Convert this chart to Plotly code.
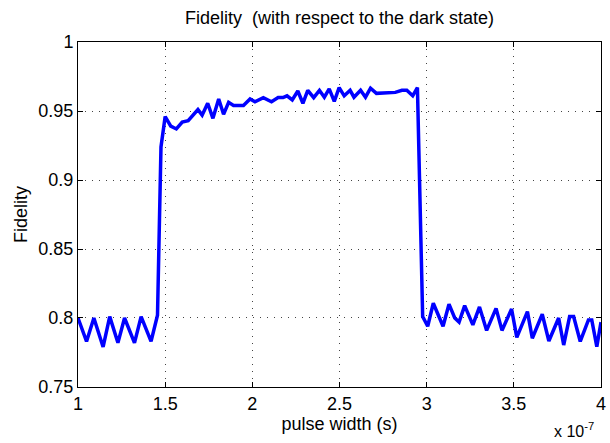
import plotly.graph_objects as go

# pulse width in units of 1e-7 s
pulse_width = [
    1.000, 1.049, 1.091, 1.144, 1.182, 1.229, 1.267, 1.324, 1.362, 1.419, 1.456,
    1.476, 1.500, 1.532, 1.564, 1.598, 1.632, 1.665, 1.688, 1.712, 1.744, 1.774,
    1.807, 1.835, 1.864, 1.892, 1.949, 1.987, 2.015, 2.063, 2.110, 2.148, 2.176,
    2.199, 2.229, 2.261, 2.290, 2.318, 2.352, 2.385, 2.413, 2.441, 2.470, 2.498,
    2.527, 2.561, 2.583, 2.621, 2.649, 2.678, 2.712, 2.820, 2.858, 2.886, 2.920,
    2.947, 2.977, 3.006, 3.038, 3.094, 3.128, 3.161, 3.186, 3.218, 3.265, 3.303,
    3.344, 3.398, 3.432, 3.487, 3.517, 3.578, 3.606, 3.663, 3.701, 3.757, 3.786,
    3.820, 3.843, 3.881, 3.928, 3.947, 3.976, 4.000,
]
fidelity = [
    0.800, 0.783, 0.800, 0.779, 0.801, 0.782, 0.800, 0.782, 0.801, 0.783, 0.802,
    0.924, 0.946, 0.939, 0.937, 0.942, 0.943, 0.948, 0.951, 0.947, 0.9556, 0.9447,
    0.9587, 0.9476, 0.9563, 0.954, 0.954, 0.9587, 0.9567, 0.9597, 0.9567, 0.9597, 0.9597,
    0.961, 0.958, 0.9645, 0.9556, 0.965, 0.9597, 0.965, 0.960, 0.966, 0.957, 0.967,
    0.961, 0.965, 0.960, 0.965, 0.960, 0.9665, 0.9628, 0.9635, 0.965, 0.965, 0.961,
    0.967, 0.801, 0.794, 0.8107, 0.794, 0.810, 0.800, 0.797, 0.809, 0.795, 0.808,
    0.791, 0.807, 0.791, 0.8065, 0.786, 0.8046, 0.7853, 0.8027, 0.7833, 0.800, 0.7804,
    0.801, 0.801, 0.783, 0.7986, 0.7986, 0.7792, 0.797,
]

x_ticks = [1, 1.5, 2, 2.5, 3, 3.5, 4]
x_ticklabels = ["1", "1.5", "2", "2.5", "3", "3.5", "4"]
y_ticks = [0.75, 0.8, 0.85, 0.9, 0.95, 1.0]
y_ticklabels = ["0.75", "0.8", "0.85", "0.9", "0.95", "1"]

FONT = "Liberation Sans, Arial, sans-serif"
FS = 18

fig = go.Figure()
fig.add_trace(go.Scatter(
    x=pulse_width, y=fidelity, mode="lines",
    line=dict(color="#0000FF", width=3.5),
    showlegend=False, cliponaxis=True,
))

axis_common = dict(
    showline=True, linecolor="black", linewidth=1, mirror="ticks",
    ticks="inside", ticklen=5, tickcolor="black", tickwidth=1,
    showgrid=True, gridcolor="#444444", griddash="1px,6px", gridwidth=1,
    zeroline=False, ticklabeloverflow="allow",
    tickfont=dict(family=FONT, size=FS, color="black"),
)

fig.update_xaxes(
    range=[0.99999, 4.00001], tickvals=x_ticks, ticktext=x_ticklabels,
    title=dict(text="pulse width (s)", font=dict(family=FONT, size=FS, color="black"), standoff=2),
    **axis_common,
)
fig.update_yaxes(
    range=[0.74999, 1.00001], tickvals=y_ticks, ticktext=y_ticklabels,
    title=dict(text="Fidelity", font=dict(family=FONT, size=FS, color="black"), standoff=6),
    **axis_common,
)

fig.update_layout(
    width=610, height=443,
    margin=dict(l=78, r=4, t=42, b=56),
    paper_bgcolor="white", plot_bgcolor="white",
    title=dict(text="Fidelity \u00a0(with respect to the dark state)",
               font=dict(family=FONT, size=FS, color="black"),
               x=0.5, xref="paper", xanchor="center", y=1 - 18 / 443, yanchor="middle"),
    annotations=[dict(
        text="x 10<sup>-7</sup>", xref="paper", yref="paper",
        x=0.99, y=-0.125, xanchor="right", yanchor="middle", showarrow=False,
        font=dict(family=FONT, size=16, color="black"),
    )],
)

fig.write_html("out.html")
